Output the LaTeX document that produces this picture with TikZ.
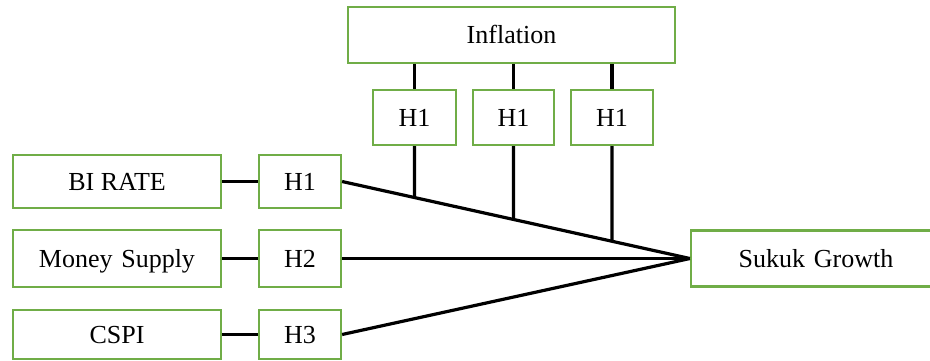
\documentclass[tikz,border=0pt]{standalone}
\usepackage{fontspec}
\setmainfont{Liberation Serif}
\usetikzlibrary{intersections}
\definecolor{boxgreen}{RGB}{112,173,71}
\begin{document}
\begin{tikzpicture}[x=1pt,y=-1pt,
  box/.style={draw=boxgreen,line width=2.2pt,fill=white,inner sep=0pt,
    font=\fontsize{26}{30}\selectfont,text height=17pt,text depth=0pt},
  link/.style={line width=3.2pt,black}]
\useasboundingbox (0,0) rectangle (930,360);
\clip (0,0) rectangle (930,360);
% nodes
\node[box,minimum width=327pt,minimum height=56pt] (inf) at (511.5,35) {Inflation};
\node[box,minimum width=83pt,minimum height=55pt] (t1) at (414.5,117.5) {H1};
\node[box,minimum width=81pt,minimum height=55pt] (t2) at (513.5,117.5) {H1};
\node[box,minimum width=82pt,minimum height=55pt] (t3) at (612,117.5) {H1};
\node[box,minimum width=208pt,minimum height=53pt] (bi) at (117,181.5) {BI RATE};
\node[box,minimum width=82pt,minimum height=53pt] (h1) at (300,181.5) {H1};
\node[box,minimum width=208pt,minimum height=57pt] (ms) at (117,258.5) {Money\,\,Supply};
\node[box,minimum width=82pt,minimum height=57pt] (h2) at (300,258.5) {H2};
\node[box,minimum width=208pt,minimum height=49pt] (cs) at (117,334.5) {CSPI};
\node[box,minimum width=82pt,minimum height=49pt] (h3) at (300,334.5) {H3};
\node[box,minimum width=250pt,minimum height=56pt,text width=237pt,align=center] (sg) at (816,258.5) {Sukuk Growth};
% connectors
\draw[link] (bi.east) -- (h1.west);
\draw[link] (ms.east) -- (h2.west);
\draw[link] (cs.east) -- (h3.west);
\draw[link,name path=diag] (h1.east) -- (sg.west);
\draw[link] (h2.east) -- (sg.west);
\draw[link] (h3.east) -- (sg.west);
\draw[link] (inf.south -| t1.north) -- (t1.north);
\draw[link] (inf.south -| t2.north) -- (t2.north);
\draw[link] (inf.south -| t3.north) -- (t3.north);
\path[name path=v1] (t1.south) -- ++(0,150);
\path[name path=v2] (t2.south) -- ++(0,150);
\path[name path=v3] (t3.south) -- ++(0,150);
\draw[link,name intersections={of=diag and v1}] (t1.south) -- (intersection-1);
\draw[link,name intersections={of=diag and v2}] (t2.south) -- (intersection-1);
\draw[link,name intersections={of=diag and v3}] (t3.south) -- (intersection-1);
\end{tikzpicture}
\end{document}
